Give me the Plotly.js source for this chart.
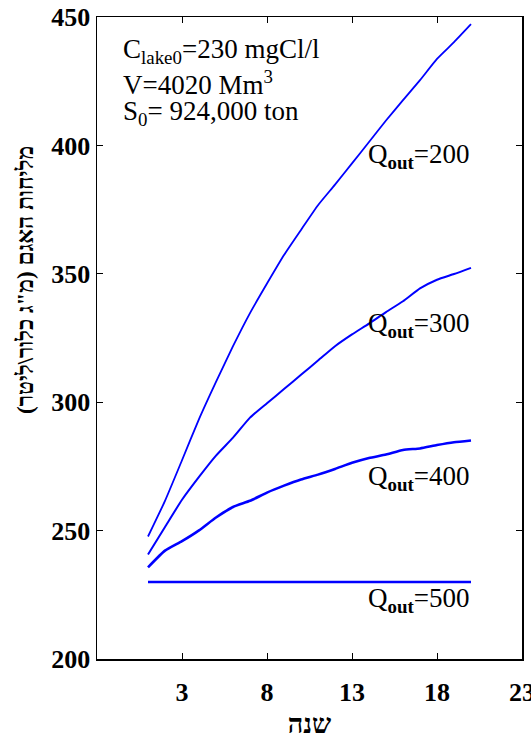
<!DOCTYPE html>
<html>
<head>
<meta charset="utf-8">
<script src="https://cdn.plot.ly/plotly-3.0.1.min.js"></script>
<style>html,body{margin:0;padding:0;background:#fff;}#chart{width:531px;height:740px;}</style>
</head>
<body>
<div id="chart"></div>
<script>
const years = [1,2,3,4,5,6,7,8,9,10,11,12,13,14,15,16,17,18,19,20];
const q200 = [247.7,261.6,277.4,293.4,307.9,321.8,334.7,346.2,357.3,367.1,376.7,384.7,393.0,401.3,409.7,417.6,425.4,433.7,440.2,447.2];
const q300 = [240.7,251.4,262.0,270.9,279.2,286.2,294.0,299.6,305.1,310.7,316.2,321.8,326.4,330.6,335.1,339.3,344.3,347.7,349.9,352.3];
const q400 = [235.7,242.2,245.9,250.1,255.1,259.2,261.6,264.8,267.5,269.9,271.8,274.0,276.4,278.3,279.6,281.4,282.0,283.3,284.4,285.1];
const q500 = [230,230,230,230,230,230,230,230,230,230,230,230,230,230,230,230,230,230,230,230];
const seriesNames = ['Q<sub><b>out</b></sub>=200','Q<sub><b>out</b></sub>=300','Q<sub><b>out</b></sub>=400','Q<sub><b>out</b></sub>=500'];
const xTicks = [3,8,13,18,23];
const yTicks = [200,250,300,350,400,450];
const infoLines = ['C<sub>lake0</sub>=230 mgCl/l','V=4020 Mm<sup>3</sup>','S<sub>0</sub>= 924,000 ton'];
const xTitle = 'שנה';
const yTitle = 'מליחות האגם (מ"ג כלור\\ליטר)';

const serif = 'Liberation Serif, serif';
const blue = '#0000ff';
const widths = [1.8,2.0,2.6,2.6];
const allSeries = [q200,q300,q400,q500];
const traces = allSeries.map((s,i)=>({
  x: years, y: s, type:'scatter', mode:'lines', line:{color:blue, width:widths[i], shape:'spline', smoothing:0.5},
  showlegend:false, hoverinfo:'skip'
}));

const labelY = [396,330,270.5,223];
const annotations = [];
seriesNames.forEach((t,i)=>{
  annotations.push({x:20, y:labelY[i], xref:'x', yref:'y', text:t, showarrow:false,
    xanchor:'right', yanchor:'middle', font:{family:serif, size:27, color:'#000'}});
});
const infoY = [436.8,424.3,412.6];
infoLines.forEach((t,i)=>{
  annotations.push({x:-0.6, y:infoY[i], xref:'x', yref:'y', text:t, showarrow:false,
    xanchor:'left', yanchor:'middle', font:{family:serif, size:27, color:'#000'}});
});
annotations.push({x:-0.17, y:0.59, xref:'paper', yref:'paper', text:'<b>'+yTitle+'</b>',
  textangle:-90, showarrow:false, xanchor:'center', yanchor:'middle',
  font:{family:serif, size:23, color:'#000'}});

const layout = {
  width:531, height:740,
  margin:{l:97, r:9, t:17, b:81},
  paper_bgcolor:'#fff', plot_bgcolor:'#fff',
  showlegend:false,
  font:{family:serif, color:'#000'},
  xaxis:{range:[-2,23], tickvals:xTicks, ticktext:xTicks.map(v=>'<b>'+v+'</b>'),
    ticks:'inside', ticklen:6, tickcolor:'#000', tickwidth:1,
    showline:true, linecolor:'#000', linewidth:1.5, mirror:'ticks',
    showgrid:false, zeroline:false, ticklabeloverflow:'allow', ticklabelstandoff:9,
    tickfont:{family:serif, size:26, color:'#000'},
    title:{text:'<b>'+xTitle+'</b>', font:{family:serif, size:27, color:'#000'}, standoff:8}},
  yaxis:{range:[200,450], tickvals:yTicks, ticktext:yTicks.map(v=>'<b>'+v+'</b>'),
    ticks:'inside', ticklen:6, tickcolor:'#000', tickwidth:1,
    showline:true, linecolor:'#000', linewidth:1.5, mirror:'ticks',
    showgrid:false, zeroline:false, ticklabeloverflow:'allow',
    tickfont:{family:serif, size:26, color:'#000'}},
  annotations: annotations
};
Plotly.newPlot('chart', traces, layout, {displayModeBar:false, staticPlot:true});
</script>
</body>
</html>
